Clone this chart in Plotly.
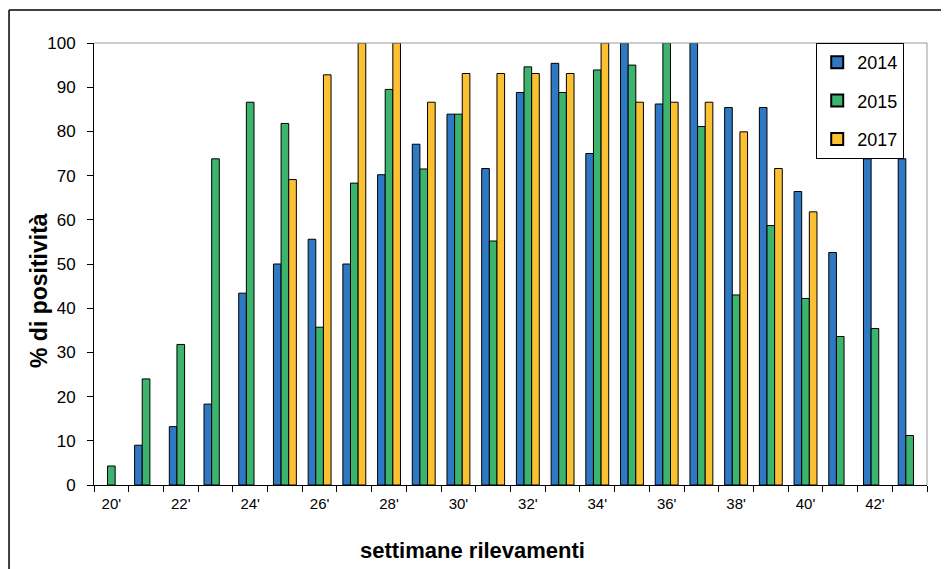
import plotly.graph_objects as go

weeks = [f"{w}'" for w in range(20, 44)]
tick_labels = [w if i % 2 == 0 else "" for i, w in enumerate(weeks)]

v2014 = [None, 9, 13.2, 18.3, 43.4, 50, 55.6, 50, 70.2, 77.1, 83.9, 71.6,
         88.8, 95.4, 75.0, 100, 86.2, 100, 85.4, 85.4, 66.4, 52.6, 73.8, 73.8]
v2015 = [4.3, 24.0, 31.8, 73.8, 86.6, 81.8, 35.7, 68.3, 89.5, 71.5, 83.9, 55.2,
         94.6, 88.8, 93.9, 95.0, 100, 81.1, 43.0, 58.7, 42.2, 33.6, 35.4, 11.2]
v2017 = [None, None, None, None, None, 69.1, 92.8, 100, 100, 86.6, 93.1, 93.1,
         93.1, 93.1, 100, 86.6, 86.6, 86.6, 79.9, 71.6, 61.8, None, None, None]

series = [("2014", v2014, "#2F78C4"), ("2015", v2015, "#3CB46E"), ("2017", v2017, "#FCC033")]

fig = go.Figure()
for name, vals, col in series:
    fig.add_trace(go.Bar(x=weeks, y=vals, name=name, legendgroup=name,
                         marker=dict(color=col, line=dict(color="black", width=1))))

font = "Arial, Liberation Sans, sans-serif"
# page body has an 8px default margin: the figure is sized/offset to compensate
fig.update_layout(
    width=941, height=561,
    margin=dict(l=86, r=22, t=35, b=84, autoexpand=False),
    paper_bgcolor="white", plot_bgcolor="white",
    barmode="group", bargap=0.34, bargroupgap=0,
    font=dict(family=font, size=13, color="black"),
    legend=dict(x=0.867, y=1, xanchor="left", yanchor="top",
                bordercolor="black", borderwidth=1, bgcolor="white",
                font=dict(family=font, size=18), tracegroupgap=12, traceorder="grouped",
                itemsizing="constant", itemwidth=30),
    xaxis=dict(type="category", tickvals=weeks, ticktext=tick_labels,
               tickson="boundaries", ticks="outside", ticklen=6,
               tickcolor="black", showline=True, linecolor="black", linewidth=1,
               showgrid=False, tickfont=dict(family=font, size=15), automargin=False,
               ticklabelstandoff=5),
    yaxis=dict(range=[0, 100], dtick=10, ticks="outside", ticklen=6,
               tickcolor="black", showline=True, linecolor="black", linewidth=1,
               showgrid=False, zeroline=False, tickfont=dict(family=font, size=17),
               automargin=False, ticklabelstandoff=8),
    annotations=[
        dict(text="<b>settimane rilevamenti</b>", xref="paper", yref="paper",
             x=(472 - 94) / 833, y=(485 - 550) / 442, xanchor="center", yanchor="middle",
             showarrow=False, font=dict(family=font, size=22)),
        dict(text="<b>% di positività</b>", xref="paper", yref="paper",
             x=(39 - 94) / 833, y=(485 - 291) / 442, xanchor="center", yanchor="middle",
             textangle=-90, showarrow=False, font=dict(family=font, size=23)),
    ],
    shapes=[
        dict(type="line", xref="paper", yref="paper", x0=0, x1=1, y0=1, y1=1,
             line=dict(color="#999999", width=1)),
        dict(type="line", xref="paper", yref="paper", x0=1, x1=1, y0=0, y1=1,
             line=dict(color="#999999", width=1)),
        dict(type="line", xref="paper", yref="paper", x0=-0.102, x1=1.03, y0=1.0747, y1=1.0747,
             line=dict(color="black", width=1.5)),
        dict(type="line", xref="paper", yref="paper", x0=-0.102, x1=-0.102, y0=-0.2, y1=1.0747,
             line=dict(color="black", width=1.5)),
    ],
)

fig.write_html("out.html")
